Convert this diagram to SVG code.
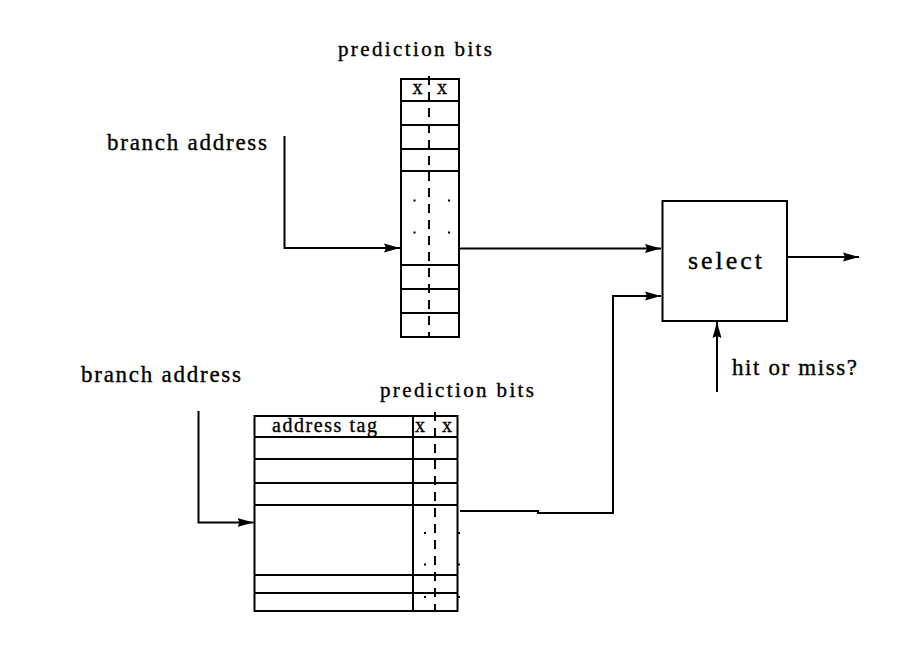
<svg xmlns="http://www.w3.org/2000/svg" width="910" height="646" viewBox="0 0 910 646">
<defs>
<marker id="arr" markerUnits="userSpaceOnUse" markerWidth="18" markerHeight="12" refX="16" refY="6" orient="auto">
<path d="M0,1.5 L16,6 L0,10.5 L2,6 z" fill="#000"/>
</marker>
<style>
text{font-family:"Liberation Serif","DejaVu Serif",serif;fill:#000;stroke:#000;stroke-width:0.35}
.box{fill:#fff;stroke:#000;stroke-width:2}
.ln{fill:none;stroke:#000;stroke-width:2}
.dash{fill:none;stroke:#000;stroke-width:2;stroke-dasharray:9 7}
.c{fill:none;stroke:#000;stroke-width:2;marker-end:url(#arr)}
.dot{fill:#000}
</style>
</defs>
<rect width="910" height="646" fill="#fff"/>

<g id="top-table">
<rect class="box" x="401" y="79" width="58" height="258"/>
<path class="ln" d="M401,101H459M401,125H459M401,149H459M401,171H459M401,265H459M401,289H459M401,313H459"/>
<line class="dash" x1="429" y1="76" x2="429" y2="336"/>
<text font-family="Liberation Serif, serif" font-size="20" x="417.5" y="94" text-anchor="middle">x</text>
<text font-family="Liberation Serif, serif" font-size="20" x="442" y="94" text-anchor="middle">x</text>
<rect class="dot" x="413.5" y="199.5" width="2" height="2"/>
<rect class="dot" x="448" y="199.5" width="2" height="2"/>
<rect class="dot" x="413.5" y="231.5" width="2" height="2"/>
<rect class="dot" x="448" y="231.5" width="2" height="2"/>
<text font-family="Liberation Serif, serif" font-size="21" x="338" y="56" textLength="154" lengthAdjust="spacing">prediction bits</text>
</g>

<g id="bottom-table">
<rect class="box" x="254.5" y="416" width="203" height="195"/>
<path class="ln" d="M254.5,437H457.5M254.5,459H457.5M254.5,483H457.5M254.5,505H457.5M254.5,575H457.5M254.5,593H457.5M413,416V611"/>
<line class="dash" x1="435" y1="412" x2="435" y2="612"/>
<text font-family="Liberation Serif, serif" font-size="20" x="272" y="432" textLength="105" lengthAdjust="spacing">address tag</text>
<text font-family="Liberation Serif, serif" font-size="20" x="420" y="432" text-anchor="middle">x</text>
<text font-family="Liberation Serif, serif" font-size="20" x="447" y="432" text-anchor="middle">x</text>
<rect class="dot" x="424" y="532" width="2" height="2"/>
<rect class="dot" x="424" y="563.5" width="2" height="2"/>
<rect class="dot" x="424" y="596" width="2" height="2"/>
<rect class="dot" x="458" y="532" width="2" height="2"/>
<rect class="dot" x="458" y="563.5" width="2" height="2"/>
<rect class="dot" x="458" y="596" width="2" height="2"/>
<text font-family="Liberation Serif, serif" font-size="21" x="380" y="397" textLength="154" lengthAdjust="spacing">prediction bits</text>
</g>

<g id="select">
<rect class="box" x="662.5" y="201" width="124.5" height="120"/>
<text font-family="Liberation Serif, serif" font-size="26" x="688" y="269" textLength="74" lengthAdjust="spacing">select</text>
</g>

<g id="label-branch-top">
<text font-family="Liberation Serif, serif" font-size="23" x="107" y="150" textLength="160" lengthAdjust="spacing">branch address</text>
</g>
<g id="label-branch-bottom">
<text font-family="Liberation Serif, serif" font-size="23" x="81" y="382" textLength="160" lengthAdjust="spacing">branch address</text>
</g>
<g id="label-hit">
<text font-family="Liberation Serif, serif" font-size="23" x="732" y="375" textLength="125" lengthAdjust="spacing">hit or miss?</text>
</g>

<g id="connectors">
<polyline class="c" points="284.5,136 284.5,248 400,248"/>
<polyline class="c" points="459,248.5 661,248.5"/>
<polyline class="c" points="198.5,411 198.5,522.5 253.5,522.5"/>
<polyline class="c" points="460,511 538,511 538,513 613,513 613,296 661,296"/>
<polyline class="c" points="787,257 859,257"/>
<polyline class="c" points="717,392 717,322"/>
</g>
</svg>
